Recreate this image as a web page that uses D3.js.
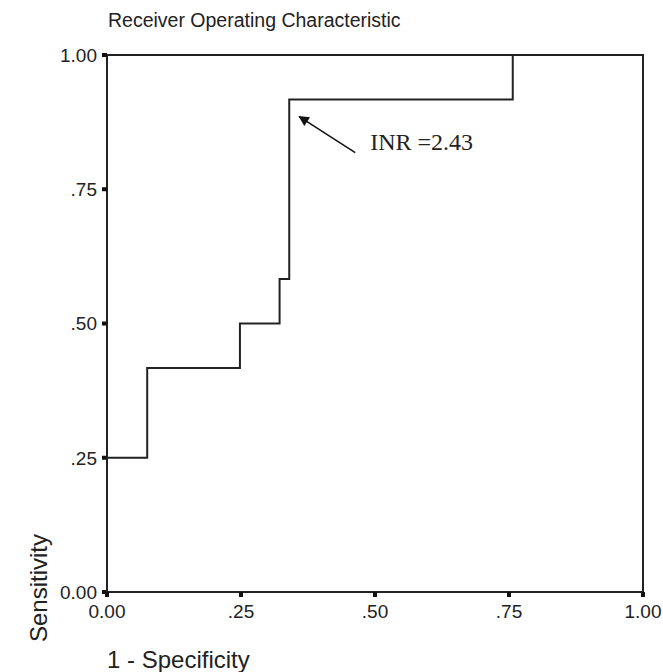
<!DOCTYPE html>
<html>
<head>
<meta charset="utf-8">
<script src="https://cdnjs.cloudflare.com/ajax/libs/d3/7.8.5/d3.min.js"></script>
<style>
  body { margin: 0; background: #fff; }
  text { font-family: "Liberation Sans", Arial, sans-serif; fill: #222; }
</style>
</head>
<body>
<div id="chart"></div>
<script>
// ROC step curve corners
var fpr = [0, 0, 0.075, 0.075, 0.248, 0.248, 0.322, 0.322, 0.340, 0.340, 0.757, 0.757, 1];
var tpr = [0, 0.25, 0.25, 0.417, 0.417, 0.5, 0.5, 0.583, 0.583, 0.917, 0.917, 1, 1];
var tickValues = [0, 0.25, 0.5, 0.75, 1];
var tickLabels = ["0.00", ".25", ".50", ".75", "1.00"];
var annotation = { text: "INR =2.43", x: 0.340, y: 0.917 };

var margin = { top: 55, right: 20, bottom: 80, left: 107 },
  width = 663 - margin.left - margin.right,
  height = 672 - margin.top - margin.bottom;

var x = d3.scaleLinear().domain([0, 1]).range([0, width]);
var y = d3.scaleLinear().domain([0, 1]).range([height, 0]);

var svg = d3.select("#chart")
  .append("svg")
  .attr("width", 663)
  .attr("height", 672)
  .append("g")
  .attr("transform", "translate(" + margin.left + "," + margin.top + ")");

// title
svg.append("text")
  .attr("x", 1)
  .attr("y", -28)
  .attr("font-size", "19.5px")
  .text("Receiver Operating Characteristic");

// frame
svg.append("rect")
  .attr("x", 0).attr("y", 0)
  .attr("width", width).attr("height", height)
  .attr("fill", "none")
  .attr("stroke", "#222")
  .attr("stroke-width", 2);

// y axis: square ticks + labels
var yAxis = svg.append("g").attr("class", "y-axis");
yAxis.selectAll("rect")
  .data(tickValues)
  .enter().append("rect")
  .attr("x", -5).attr("y", function (d) { return y(d) - 2; })
  .attr("width", 5).attr("height", 4)
  .attr("fill", "#111");
yAxis.selectAll("text")
  .data(tickValues)
  .enter().append("text")
  .attr("x", -10)
  .attr("y", function (d) { return y(d); })
  .attr("dy", "0.36em")
  .attr("text-anchor", "end")
  .attr("font-size", "19px")
  .text(function (d, i) { return tickLabels[i]; });

// x axis
var xAxis = svg.append("g").attr("class", "x-axis");
xAxis.selectAll("rect")
  .data(tickValues)
  .enter().append("rect")
  .attr("x", function (d) { return x(d) - 2; }).attr("y", height)
  .attr("width", 4).attr("height", 5)
  .attr("fill", "#111");
xAxis.selectAll("text")
  .data(tickValues)
  .enter().append("text")
  .attr("x", function (d) { return x(d); })
  .attr("y", height + 26)
  .attr("text-anchor", "middle")
  .attr("font-size", "19px")
  .text(function (d, i) { return tickLabels[i]; });

// axis titles
svg.append("text")
  .attr("x", 0)
  .attr("y", height + 76)
  .attr("font-size", "24px")
  .text("1 - Specificity");

svg.append("text")
  .attr("transform", "translate(" + (-60) + "," + (height + 50) + ") rotate(-90)")
  .attr("font-size", "24px")
  .text("Sensitivity");

// ROC curve
var line = d3.line()
  .x(function (d) { return x(d[0]); })
  .y(function (d) { return y(d[1]); });

svg.append("path")
  .datum(d3.zip(fpr, tpr))
  .attr("d", line)
  .attr("fill", "none")
  .attr("stroke", "#222")
  .attr("stroke-width", 2);

// annotation with arrow
svg.append("defs").append("marker")
  .attr("id", "arrow")
  .attr("viewBox", "0 0 10 10")
  .attr("refX", 9).attr("refY", 5)
  .attr("markerWidth", 9).attr("markerHeight", 7)
  .attr("orient", "auto")
  .append("path")
  .attr("d", "M0,0 L10,5 L0,10 z")
  .attr("fill", "#111");

svg.append("line")
  .attr("x1", x(annotation.x) + 66).attr("y1", y(annotation.y) + 53)
  .attr("x2", x(annotation.x) + 10).attr("y2", y(annotation.y) + 17)
  .attr("stroke", "#111")
  .attr("stroke-width", 1.5)
  .attr("marker-end", "url(#arrow)");

svg.append("text")
  .attr("x", x(annotation.x) + 81)
  .attr("y", y(annotation.y) + 50)
  .style("font-family", "'Liberation Serif', 'Times New Roman', serif")
  .attr("font-size", "24px")
  .text(annotation.text);
</script>
</body>
</html>
